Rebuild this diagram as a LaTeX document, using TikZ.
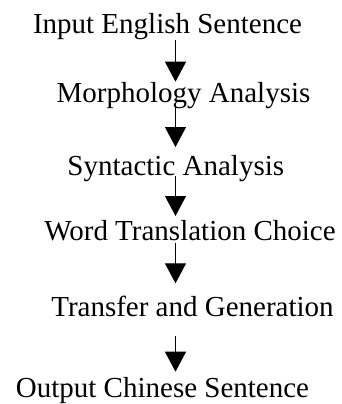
\documentclass[tikz,border=0pt]{standalone}
\usepackage{fontspec}
\setmainfont{Liberation Serif}
\usetikzlibrary{arrows.meta}
\tikzset{
  lbl/.style={anchor=base, inner sep=0pt, font=\fontsize{29}{34}\selectfont},
  arr/.style={line width=1.2pt, -{Triangle[width=21pt,length=20pt]}}
}
\begin{document}
\begin{tikzpicture}[x=1pt,y=-1pt]
\useasboundingbox (0,0) rectangle (342,404);
\coordinate (ax) at (175.5,0);
\node[lbl] (t1) at (167.5,33.3) {Input English Sentence};
\node[lbl] (t2) at (183.5,102) {Morphology Analysis};
\node[lbl] (t3) at (175.8,175) {Syntactic Analysis};
\node[lbl] (t4) at (190,240) {Word Translation Choice};
\node[lbl] (t5) at (192.5,316.7) {Transfer and Generation};
\node[lbl] (t6) at (162.5,397.5) {Output Chinese Sentence};
\draw[arr] ([yshift=-6.7pt]t1.base -| ax) -- ([yshift=20.3pt]t2.base -| ax);
\draw[arr] ([yshift=-1pt]t2.base -| ax) -- ([yshift=28pt]t3.base -| ax);
\draw[arr] ([yshift=-1pt]t3.base -| ax) -- ([yshift=24pt]t4.base -| ax);
\draw[arr] ([yshift=-2.7pt]t4.base -| ax) -- ([yshift=33.4pt]t5.base -| ax);
\draw[arr] ([yshift=-19.3pt]t5.base -| ax) -- ([yshift=25.8pt]t6.base -| ax);
\end{tikzpicture}
\end{document}
